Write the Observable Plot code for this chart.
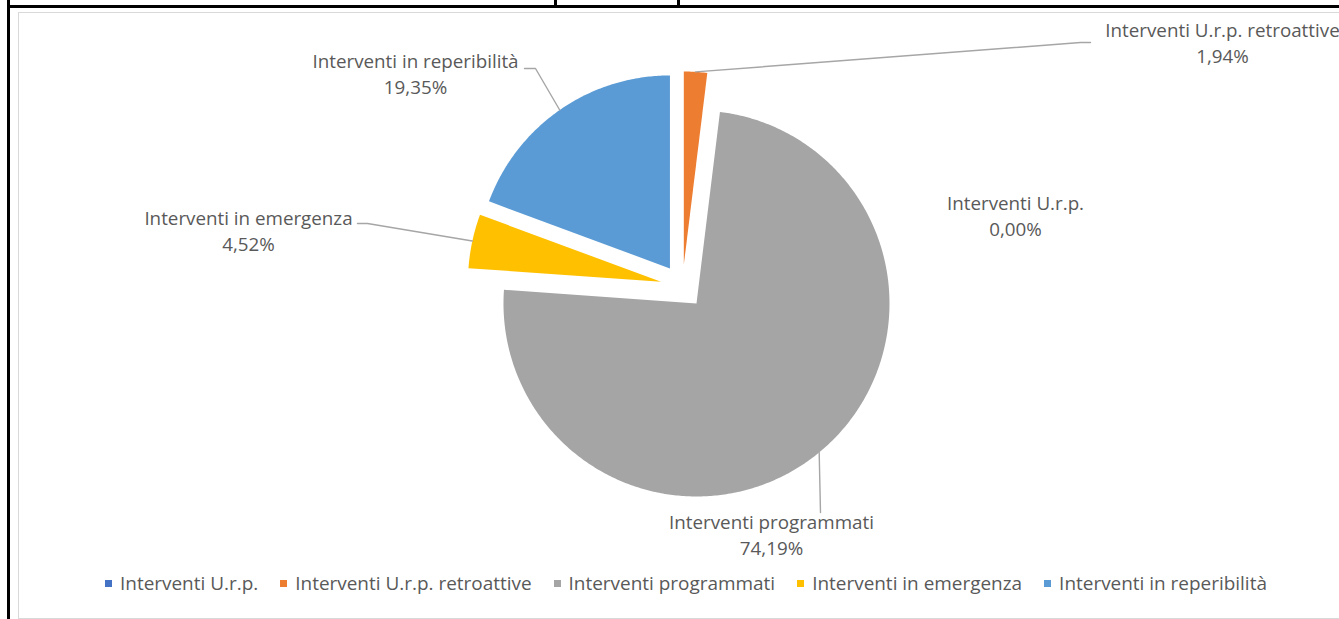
<!DOCTYPE html>
<html><head><meta charset="utf-8">
<script src="https://cdn.jsdelivr.net/npm/d3@7"></script>
<script src="https://cdn.jsdelivr.net/npm/@observablehq/plot@0.6"></script>
<style>
body{margin:0;background:#fff;width:1339px;height:619px;overflow:hidden;position:relative;font-family:"Open Sans",sans-serif;}
.blk{position:absolute;background:#000}
.frame{position:absolute;left:18px;top:12px;width:1340px;height:607px;border:1px solid #d9d9d9;box-sizing:border-box}
#chart{position:absolute;left:0;top:0}
#legend{position:absolute;top:570px;left:105px;display:flex;align-items:center;font-size:18.95px;color:#595959;white-space:nowrap}
#legend .it{display:flex;align-items:center;margin-right:22px}
#legend .sw{width:7px;height:7px;margin-right:8px}
</style></head>
<body>
<div class="blk" style="left:7px;top:0;width:3px;height:619px"></div>
<div class="blk" style="left:7px;top:5px;width:1332px;height:3px"></div>
<div class="blk" style="left:554px;top:0;width:3px;height:6px"></div>
<div class="blk" style="left:677px;top:0;width:3px;height:6px"></div>
<div class="frame"></div>
<div id="chart"></div>
<div id="legend"></div>
<script>
// ---- data ----
const categories = ["Interventi U.r.p.", "Interventi U.r.p. retroattive", "Interventi programmati", "Interventi in emergenza", "Interventi in reperibilità"];
const values = [0.00, 1.94, 74.19, 4.52, 19.35];
const colors = ["#4472C4", "#ED7D31", "#A5A5A5", "#FFC000", "#5B9BD5"];

// ---- layout (annotation placement, px relative to pie centre, y up) ----
const labelPos = [[333, 72], [540, 245], [89, -247], [-434, 57], [-267, 214]];
const leaderEnd = [null, [[398, 244], [408, 244]], [[138, -226]], [[-315, 63], [-325, 63]], [[-147, 218], [-158, 218]]];

const W = 1339, H = 568, CX = 682, CY = 286, R = 193, EXPLODE = 22;
const fmt = d3.formatLocale({decimal: ",", thousands: ".", grouping: [3], currency: ["€", ""]}).format(".2f");

const data = categories.map((c, i) => ({category: c, value: values[i]}));
const arcs = d3.pie().sort(null).value(d => d.value)(data);

// slice outlines
const slicePts = [];
const leaderPts = [];
arcs.forEach((a, i) => {
  const m = (a.startAngle + a.endAngle) / 2;
  const ox = EXPLODE * Math.sin(m), oy = EXPLODE * Math.cos(m);
  if (a.value > 0) {
    slicePts.push({category: a.data.category, x: ox, y: oy});
    const n = Math.max(2, Math.ceil((a.endAngle - a.startAngle) / 0.01));
    for (let k = 0; k <= n; k++) {
      const t = a.startAngle + (a.endAngle - a.startAngle) * k / n;
      slicePts.push({category: a.data.category, x: ox + R * Math.sin(t), y: oy + R * Math.cos(t)});
    }
    slicePts.push({category: a.data.category, x: ox, y: oy});
  }
  if (leaderEnd[i]) {
    leaderPts.push({category: a.data.category, x: ox + R * Math.sin(m), y: oy + R * Math.cos(m)});
    leaderEnd[i].forEach(p => leaderPts.push({category: a.data.category, x: p[0], y: p[1]}));
  }
});

const labels = data.map((d, i) => ({x: labelPos[i][0], y: labelPos[i][1], text: d.category + "\n" + fmt(d.value) + "%"}));

const chart = Plot.plot({
  width: W, height: H,
  margin: 0,
  x: {domain: [-CX, W - CX], axis: null},
  y: {domain: [-(H - CY), CY], axis: null},
  color: {domain: categories, range: colors},
  style: {background: "transparent", fontFamily: "'Open Sans', sans-serif"},
  marks: [
    Plot.line(slicePts, {x: "x", y: "y", z: "category", fill: "category", stroke: null, curve: "linear"}),
    Plot.line(leaderPts, {x: "x", y: "y", z: "category", stroke: "#A6A6A6", strokeWidth: 1.4}),
    Plot.text(labels, {x: "x", y: "y", text: "text", fontSize: 18.8, lineHeight: 1.38, fill: "#595959", textAnchor: "middle"})
  ]
});
document.getElementById("chart").appendChild(chart);

// legend
const lg = document.getElementById("legend");
categories.forEach((c, i) => {
  const it = document.createElement("div"); it.className = "it";
  const sw = document.createElement("div"); sw.className = "sw"; sw.style.background = colors[i];
  const tx = document.createElement("span"); tx.textContent = c;
  it.appendChild(sw); it.appendChild(tx); lg.appendChild(it);
});
</script>
</body></html>
